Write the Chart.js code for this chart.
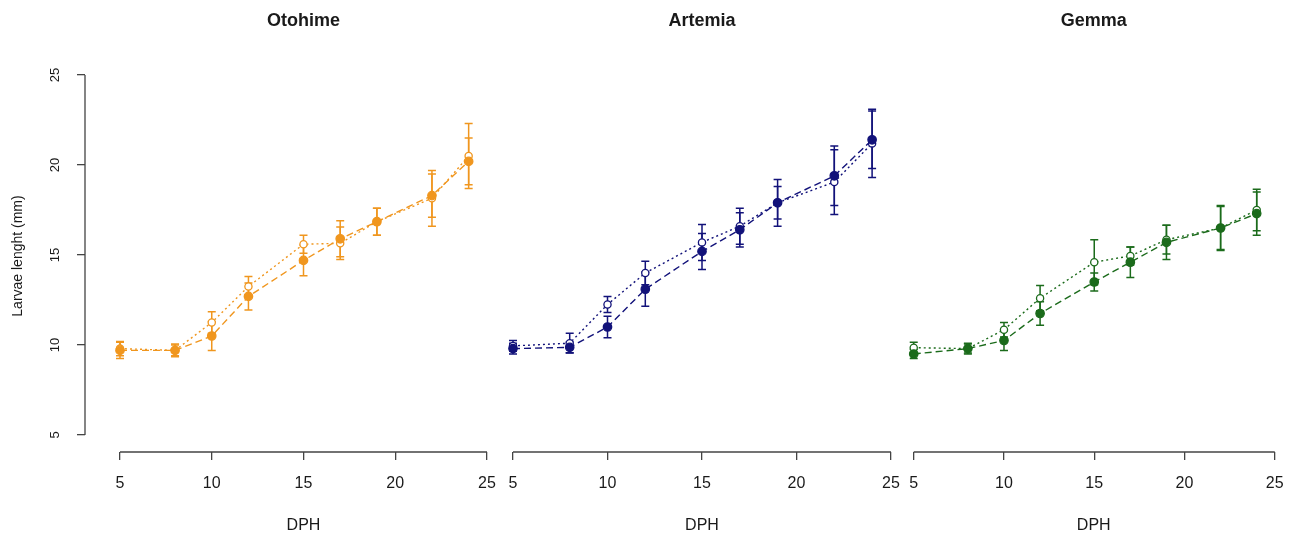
<!DOCTYPE html>
<html>
<head>
<meta charset="utf-8">
<script src="https://cdn.jsdelivr.net/npm/chart.js@4"></script>
<style>
  html, body { margin: 0; padding: 0; background: #fff; }
  #wrap { position: relative; width: 1299px; height: 537px; }
  #wrap canvas { position: absolute; left: 0; top: 0; }
</style>
</head>
<body>
<div id="wrap">
  <canvas id="otohime" width="1299" height="537"></canvas>
  <canvas id="artemia" width="1299" height="537"></canvas>
  <canvas id="gemma" width="1299" height="537"></canvas>
</div>
<script>
// days post hatching, shared by all three panels
const DAYS    = [5, 8, 10, 12, 15, 17, 19, 22, 24];
const X_TICKS = [5, 10, 15, 20, 25];
const Y_TICKS = [5, 10, 15, 20, 25];

// filled points = dashed line, open points = dotted line
const OTOHIME_FILLED    = [9.7, 9.7, 10.5, 12.7, 14.7, 15.9, 16.85, 18.3, 20.2];
const OTOHIME_FILLED_SD = [0.45, 0.35, 0.8, 0.75, 0.85, 1.0, 0.75, 1.2, 1.3];
const OTOHIME_OPEN      = [9.8, 9.7, 11.25, 13.25, 15.6, 15.65, 16.85, 18.15, 20.5];
const OTOHIME_OPEN_SD   = [0.4, 0.3, 0.6, 0.55, 0.5, 0.9, 0.75, 1.55, 1.8];

const ARTEMIA_FILLED    = [9.8, 9.87, 11.0, 13.1, 15.2, 16.4, 17.9, 19.4, 21.4];
const ARTEMIA_FILLED_SD = [0.3, 0.3, 0.6, 0.95, 1.0, 0.95, 1.3, 1.65, 1.6];
const ARTEMIA_OPEN      = [9.95, 10.1, 12.25, 14.0, 15.7, 16.6, 17.9, 19.05, 21.2];
const ARTEMIA_OPEN_SD   = [0.3, 0.55, 0.45, 0.65, 1.0, 1.0, 0.9, 1.8, 1.9];

const GEMMA_FILLED      = [9.5, 9.8, 10.25, 11.75, 13.5, 14.6, 15.7, 16.5, 17.3];
const GEMMA_FILLED_SD   = [0.25, 0.25, 0.55, 0.65, 0.5, 0.85, 0.95, 1.25, 1.2];
const GEMMA_OPEN        = [9.85, 9.8, 10.85, 12.6, 14.6, 14.95, 15.85, 16.5, 17.5];
const GEMMA_OPEN_SD     = [0.3, 0.3, 0.4, 0.7, 1.25, 0.5, 0.8, 1.2, 1.15];

const TEXT_COLOR = '#1a1a1a';
const AXIS_COLOR = '#444';
const FONT = '"Liberation Sans", Arial, Helvetica, sans-serif';

Chart.defaults.font.family = FONT;
Chart.defaults.color = TEXT_COLOR;

// R-style axes (line only from 5 to 25) + error bars with caps
const rStyle = {
  id: 'rStyle',
  beforeDatasetsDraw(chart) {
    const { ctx } = chart;
    const xs = chart.scales.x, ys = chart.scales.y;
    ctx.save();
    chart.data.datasets.forEach(ds => {
      ctx.strokeStyle = ds.borderColor;
      ctx.lineWidth = 1.5;
      ctx.setLineDash([]);
      ds.data.forEach((p, i) => {
        const sd = ds.sd[i];
        const x = xs.getPixelForValue(p.x);
        const y1 = ys.getPixelForValue(p.y - sd);
        const y2 = ys.getPixelForValue(p.y + sd);
        ctx.beginPath();
        ctx.moveTo(x, y1); ctx.lineTo(x, y2);
        ctx.moveTo(x - 4, y1); ctx.lineTo(x + 4, y1);
        ctx.moveTo(x - 4, y2); ctx.lineTo(x + 4, y2);
        ctx.stroke();
      });
    });
    ctx.restore();
  },
  afterDraw(chart) {
    const { ctx, chartArea } = chart;
    const xs = chart.scales.x, ys = chart.scales.y;
    ctx.save();
    ctx.strokeStyle = AXIS_COLOR;
    ctx.lineWidth = 1.3;
    ctx.beginPath();
    ctx.moveTo(xs.getPixelForValue(X_TICKS[0]), chartArea.bottom);
    ctx.lineTo(xs.getPixelForValue(X_TICKS[X_TICKS.length - 1]), chartArea.bottom);
    if (ys.options.display) {
      ctx.moveTo(chartArea.left, ys.getPixelForValue(Y_TICKS[0]));
      ctx.lineTo(chartArea.left, ys.getPixelForValue(Y_TICKS[Y_TICKS.length - 1]));
    }
    ctx.stroke();
    ctx.restore();
  }
};

function series(values, sd, color, filled) {
  return {
    data: DAYS.map((d, i) => ({ x: d, y: values[i] })),
    sd,
    showLine: true,
    borderColor: color,
    backgroundColor: filled ? color : '#fff',
    borderWidth: 1.4,
    borderDash: filled ? [7, 4] : [2, 3],
    pointRadius: filled ? 4.2 : 3.6,
    pointBorderWidth: 1.3,
    pointBorderColor: color,
    pointBackgroundColor: filled ? color : '#fff',
    clip: false,
  };
}

// panel: pixel positions of x=5 and x=25, chart area left/right
function renderPanel(p) {
  const ppu = (p.x25 - p.x5) / 20;
  const xMin = 5 - (p.x5 - p.left) / ppu;
  const xMax = 25 + (p.right - p.x25) / ppu;

  const yAxis = p.showY ? {
    min: 4.0556, max: 25.8333,
    afterBuildTicks: s => { s.ticks = Y_TICKS.map(v => ({ value: v })); },
    afterFit: s => { s.width = 85; },
    border: { display: false },
    grid: { drawOnChartArea: false, drawTicks: true, tickLength: 8, color: AXIS_COLOR, lineWidth: 1.3 },
    ticks: { minRotation: 90, maxRotation: 90, crossAlign: 'center', padding: 14,
             font: { size: 13 }, color: TEXT_COLOR, autoSkip: false },
    title: { display: true, text: 'Larvae lenght (mm)', font: { size: 14 }, color: TEXT_COLOR,
             padding: { top: 10, bottom: 0 } },
  } : { min: 4.0556, max: 25.8333, display: false };

  new Chart(document.getElementById(p.id), {
    type: 'scatter',
    data: {
      datasets: [
        series(p.filled, p.filledSd, p.color, true),
        series(p.open, p.openSd, p.color, false),
      ],
    },
    options: {
      responsive: false,
      animation: false,
      layout: { padding: { left: p.showY ? 0 : p.left, right: 1299 - p.right, top: 0, bottom: 0 } },
      plugins: {
        legend: { display: false },
        tooltip: { enabled: false },
        title: {
          display: true, text: p.title, fullSize: false, color: TEXT_COLOR,
          font: { size: 18, weight: 'bold' },
          padding: { top: 10, bottom: 28.4 },
        },
      },
      scales: {
        x: {
          type: 'linear', min: xMin, max: xMax,
          afterBuildTicks: s => { s.ticks = X_TICKS.map(v => ({ value: v })); },
          afterFit: s => { s.height = 85; },
          border: { display: false },
          grid: { drawOnChartArea: false, drawTicks: true, tickLength: 8, color: AXIS_COLOR, lineWidth: 1.3 },
          ticks: { font: { size: 16 }, color: TEXT_COLOR, padding: 14, maxRotation: 0, autoSkip: false },
          title: { display: true, text: 'DPH', font: { size: 16 }, color: TEXT_COLOR,
                   padding: { top: 0, bottom: 2 } },
        },
        y: yAxis,
      },
    },
    plugins: [rStyle],
  });
}

renderPanel({ id: 'otohime', title: 'Otohime', color: '#F0961E', showY: true,
  x5: 120, x25: 487, left: 85, right: 522,
  filled: OTOHIME_FILLED, filledSd: OTOHIME_FILLED_SD, open: OTOHIME_OPEN, openSd: OTOHIME_OPEN_SD });

renderPanel({ id: 'artemia', title: 'Artemia', color: '#12127A', showY: false,
  x5: 513, x25: 891, left: 493, right: 911,
  filled: ARTEMIA_FILLED, filledSd: ARTEMIA_FILLED_SD, open: ARTEMIA_OPEN, openSd: ARTEMIA_OPEN_SD });

renderPanel({ id: 'gemma', title: 'Gemma', color: '#1B6B1B', showY: false,
  x5: 914, x25: 1280, left: 894, right: 1299,
  filled: GEMMA_FILLED, filledSd: GEMMA_FILLED_SD, open: GEMMA_OPEN, openSd: GEMMA_OPEN_SD });
</script>
</body>
</html>
